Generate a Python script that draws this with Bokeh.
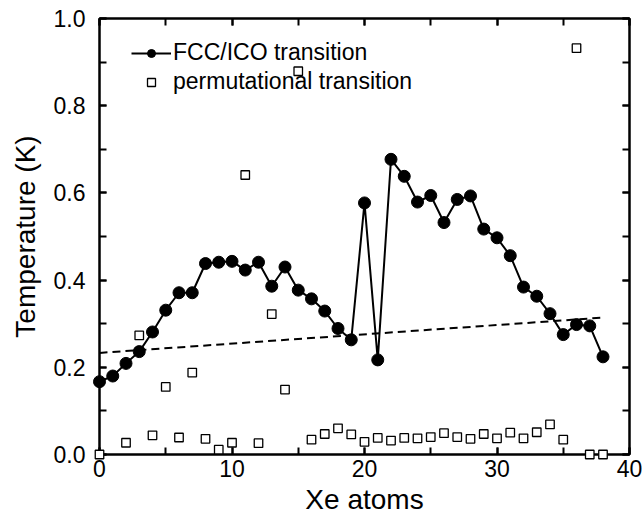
from bokeh.plotting import figure
from bokeh.models import (Range1d, SingleIntervalTicker, LinearAxis, Legend, LegendItem,
                          NumeralTickFormatter)
from bokeh.embed import file_html
from bokeh.resources import INLINE

# ---- data ----
atoms = list(range(39))
fcc_ico = [0.167, 0.180, 0.209, 0.236, 0.281, 0.331, 0.371, 0.371, 0.438, 0.441,
           0.443, 0.423, 0.441, 0.386, 0.430, 0.377, 0.357, 0.329, 0.289, 0.263,
           0.577, 0.217, 0.677, 0.638, 0.579, 0.594, 0.532, 0.585, 0.593, 0.517,
           0.497, 0.456, 0.384, 0.363, 0.323, 0.275, 0.298, 0.295, 0.224]
perm_x = [0, 2, 3, 4, 5, 6, 7, 8, 9, 10, 11, 12, 13, 14, 15, 16, 17, 18, 19, 20,
          21, 22, 23, 24, 25, 26, 27, 28, 29, 30, 31, 32, 33, 34, 35, 36, 37, 38]
perm_y = [0.0, 0.027, 0.273, 0.044, 0.155, 0.039, 0.188, 0.036, 0.011, 0.027,
          0.641, 0.026, 0.322, 0.149, 0.879, 0.034, 0.047, 0.060, 0.046, 0.029,
          0.038, 0.032, 0.038, 0.037, 0.040, 0.049, 0.040, 0.036, 0.047, 0.037,
          0.050, 0.037, 0.051, 0.069, 0.034, 0.932, 0.0, 0.0]
fit_x = [0, 38]
fit_y = [0.233, 0.314]

FONT = "Liberation Sans"

p = figure(width=642, height=517, output_backend="svg", toolbar_location=None,
           x_range=Range1d(0, 40), y_range=Range1d(0, 1),
           min_border_left=99, min_border_right=13, min_border_top=18, min_border_bottom=62)
p.grid.visible = False
p.outline_line_color = "black"
p.outline_line_width = 2
p.background_fill_color = "white"
p.border_fill_color = "white"

# axes
xax = p.xaxis[0]
yax = p.yaxis[0]
xax.ticker = SingleIntervalTicker(interval=10, num_minor_ticks=2)
yax.ticker = SingleIntervalTicker(interval=0.2, num_minor_ticks=2)
yax.formatter = NumeralTickFormatter(format="0.0")
xax.axis_label = "Xe atoms"
yax.axis_label = "Temperature (K)"
for ax in (xax, yax):
    ax.axis_line_width = 2
    ax.major_tick_line_width = 2
    ax.minor_tick_line_width = 2
    ax.major_tick_in = 7
    ax.major_tick_out = 0
    ax.minor_tick_in = 7
    ax.minor_tick_out = 0
    ax.major_label_text_font = FONT
    ax.major_label_text_font_size = "23px"
    ax.major_label_text_color = "black"
    ax.axis_label_text_font = FONT
    ax.axis_label_text_font_size = "28px"
    ax.axis_label_text_font_style = "normal"
    ax.axis_label_text_color = "black"
xax.major_label_standoff = 5
xax.axis_label_standoff = 4
xax.axis_label_text_line_height = 0.8
yax.major_label_standoff = 14
yax.axis_label_standoff = 10

for loc, interval in (("above", 10), ("right", 0.2)):
    a = LinearAxis(ticker=SingleIntervalTicker(interval=interval, num_minor_ticks=2),
                   major_label_text_font_size="1px", major_label_text_alpha=0,
                   major_label_standoff=0, axis_label_standoff=0,
                   axis_line_width=2, major_tick_line_width=2, minor_tick_line_width=2,
                   major_tick_in=7, major_tick_out=0, minor_tick_in=7, minor_tick_out=0)
    p.add_layout(a, loc)

# data
fit_r = p.line(fit_x, fit_y, line_color="black", line_width=2, line_dash="8 5")
line_r = p.line(atoms, fcc_ico, line_color="black", line_width=2, level="overlay")
circ_r = p.scatter(atoms, fcc_ico, marker="circle", size=12, fill_color="black",
                   line_color="black", level="overlay")
sq_r = p.scatter(perm_x, perm_y, marker="square", size=8.5, fill_color="white",
                 line_color="black", line_width=1.3, level="overlay")

legend = Legend(items=[LegendItem(label="FCC/ICO transition", renderers=[line_r, circ_r]),
                       LegendItem(label="permutational transition", renderers=[sq_r])],
                location=(32, 359), background_fill_alpha=0, border_line_alpha=0,
                padding=0, margin=0, spacing=2, glyph_width=40, glyph_height=20,
                label_height=20, label_standoff=2,
                label_text_font=FONT, label_text_font_size="23px", label_text_color="black")
p.add_layout(legend)

open("out.html", "w").write(file_html(p, INLINE))
